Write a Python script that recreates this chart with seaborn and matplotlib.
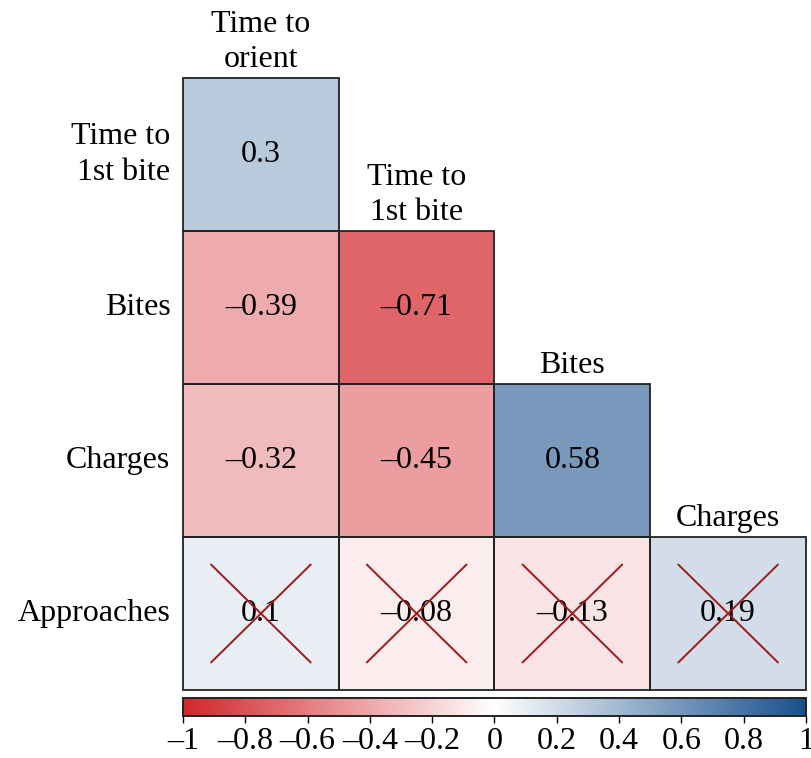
import numpy as np
import matplotlib
matplotlib.use("Agg")
import matplotlib.pyplot as plt
import seaborn as sns
from matplotlib.colors import LinearSegmentedColormap

# correlation values (lower triangle, NaN = not shown)
row_names = ["Time to\n1st bite", "Bites", "Charges", "Approaches"]
col_names = ["Time to\norient", "Time to\n1st bite", "Bites", "Charges"]
corr = np.array([
    [0.30, np.nan, np.nan, np.nan],
    [-0.39, -0.71, np.nan, np.nan],
    [-0.32, -0.45, 0.58, np.nan],
    [0.10, -0.08, -0.13, 0.19],
])
# non-significant cells get crossed out
not_sig = np.array([
    [False, False, False, False],
    [False, False, False, False],
    [False, False, False, False],
    [True, True, True, True],
])
cbar_ticks = [-1, -0.8, -0.6, -0.4, -0.2, 0, 0.2, 0.4, 0.6, 0.8, 1]

sns.set_style("white")
plt.rcParams['font.family'] = ['Liberation Serif', 'DejaVu Serif']
plt.rcParams['text.color'] = 'black'
plt.rcParams['xtick.color'] = 'black'
plt.rcParams['ytick.color'] = 'black'
FS = 23

def fmt_num(v):
    s = f"{v:g}"
    return s.replace("-", "\u2013")

labels = np.array([[fmt_num(v) if not np.isnan(v) else "" for v in row] for row in corr])

cmap = LinearSegmentedColormap.from_list("rdwbu", ["#D2262C", "#FFFFFF", "#18508C"])

fig = plt.figure(figsize=(8.12, 7.58), dpi=100)
W, H = 812, 758
ax = fig.add_axes([183 / W, 1 - 690 / H, (806 - 183) / W, (690 - 78) / H])
cax = fig.add_axes([183 / W, 1 - 716 / H, (806 - 183) / W, 18 / H])

mask = np.isnan(corr)
sns.heatmap(corr, mask=mask, cmap=cmap, vmin=-1, vmax=1, annot=labels, fmt="",
            annot_kws={"fontsize": FS, "color": "black"},
            linewidths=0, square=False,
            cbar_ax=cax, cbar_kws={"orientation": "horizontal", "ticks": cbar_ticks},
            ax=ax)

# outer edge of every drawn cell
for i in range(corr.shape[0]):
    for j in range(corr.shape[1]):
        if mask[i, j]:
            continue
        ax.add_patch(plt.Rectangle((j, i), 1, 1, fill=False, ec="#222222", lw=1.3, zorder=3,
                                   clip_on=False))
        if not_sig[i, j]:
            ax.plot([j + 0.18, j + 0.82], [i + 0.18, i + 0.82], color="#9E1A1A", lw=1.4, zorder=4)
            ax.plot([j + 0.18, j + 0.82], [i + 0.82, i + 0.18], color="#9E1A1A", lw=1.4, zorder=4)

ax.set_xticks([])
ax.set_yticks(np.arange(len(row_names)) + 0.5)
ax.set_yticklabels(row_names, rotation=0, fontsize=FS, ha="right", linespacing=1.3)
ax.tick_params(axis="y", length=0, pad=9)

# column labels sit on top of each column's first cell
for j, name in enumerate(col_names):
    ax.text(j + 0.5, j - 0.025, name, ha="center", va="bottom", fontsize=FS, linespacing=1.3)

for s in ax.spines.values():
    s.set_visible(False)

cax.set_xticklabels([fmt_num(t) for t in cbar_ticks], fontsize=FS)
cax.tick_params(axis="x", length=5, width=1, pad=3, bottom=True)
cax.xaxis.set_ticks_position("bottom")
for s in cax.spines.values():
    s.set_visible(True)
    s.set_color("#222222")
    s.set_linewidth(1.2)

fig.savefig("out.png", dpi=100)
